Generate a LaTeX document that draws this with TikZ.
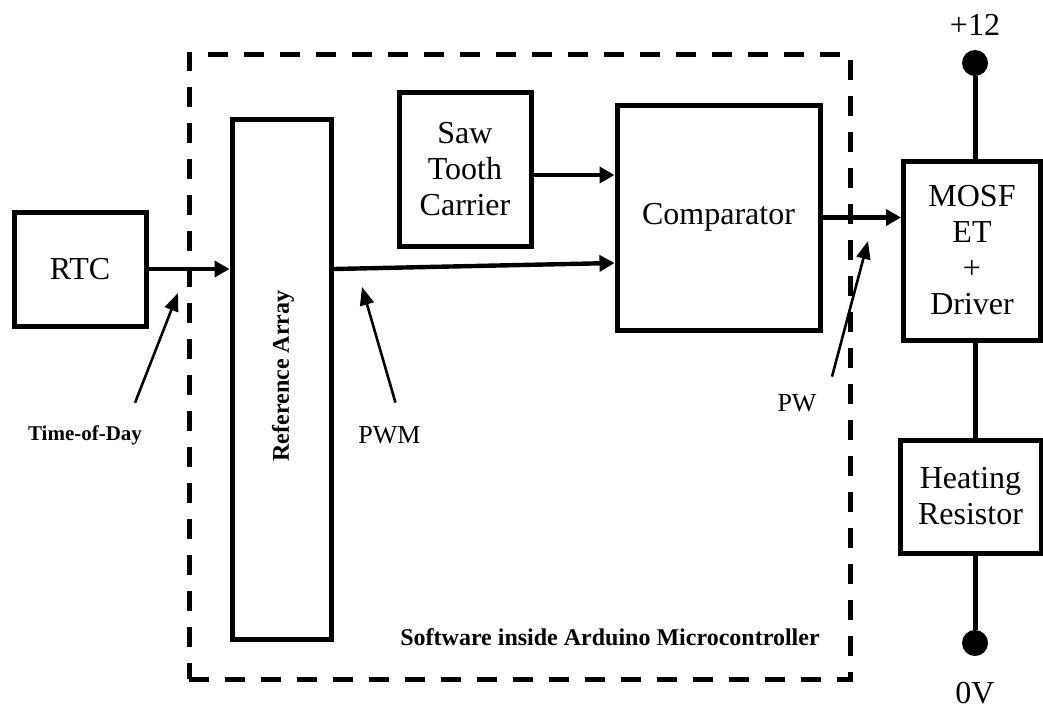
\documentclass[tikz,border=0pt]{standalone}
\usepackage{fontspec}
\setmainfont{Liberation Serif}
\usetikzlibrary{arrows.meta, positioning}

\begin{document}
\begin{tikzpicture}[
  x=0.5pt, y=-0.5pt,
  blk/.style={rectangle, draw, line width=2.5pt, inner sep=0pt, align=center,
              font=\fontsize{16}{18}\selectfont},
  swbox/.style={rectangle, draw, line width=2.5pt, dash pattern=on 10pt off 8pt, inner sep=0pt},
  arrow/.style={-{Triangle[length=7.5pt, width=8pt]}, line width=2.2pt},
  ptr/.style={-{Triangle[length=9pt, width=7pt]}, line width=1.3pt},
  lbl/.style={font=\fontsize{10.5}{12}\selectfont\bfseries, inner sep=0pt},
  note/.style={font=\fontsize{13}{15}\selectfont, inner sep=0pt},
  rail/.style={font=\fontsize{16}{18}\selectfont, inner sep=0pt},
  dot/.style={circle, fill, inner sep=0pt, minimum size=13pt},
  wire/.style={line width=2.5pt}
]
\useasboundingbox (0,0) rectangle (1043,709);

% software boundary
\node[swbox, minimum width=330.5pt, minimum height=312.5pt] (sw) at (519.5,366.5) {};

% blocks
\node[blk, minimum width=66pt, minimum height=57pt] (rtc) at (80,269) {RTC};
\node[blk, minimum width=49.5pt, minimum height=260pt] (ref) at (281.5,379) {};
\node[rotate=90, font=\fontsize{12}{14}\selectfont\bfseries] (reflbl) at (283,376) {Reference Array};
\node[blk, minimum width=66pt, minimum height=77pt] (saw) at (465,169) {Saw\\Tooth\\Carrier};
\node[blk, minimum width=101.5pt, minimum height=112.5pt] (comp) at (718.5,217.5) {Comparator};
\node[blk, minimum width=68.5pt, minimum height=89.5pt] (mosfet) at (972,250.5) {MOSF\\ET\\+\\Driver};
\node[blk, minimum width=70.5pt, minimum height=56.5pt] (heat) at (970.5,496.5) {Heating\\Resistor};

% supply rails
\node[dot] (vplus) at (975,63) {};
\node[dot] (vzero) at (975,643) {};
\node[rail, anchor=base] (v12) at (975,35) {+12};
\node[rail, anchor=base] (v0) at (975,703) {0V};

\draw[wire] (vplus) -- (vplus |- mosfet.north);
\draw[wire] (vplus |- mosfet.south) -- (vplus |- heat.north);
\draw[wire] (vplus |- heat.south) -- (vzero);

% signal flow
\draw[arrow] (rtc.east) -- (rtc.east -| ref.west);
\draw[arrow] (rtc.east -| ref.east) -- ([yshift=-22.75pt]comp.west);
\draw[arrow] ([yshift=-3pt]saw.east) -- ([yshift=-3pt]saw.east -| comp.west);
\draw[arrow] (comp.east) -- (comp.east -| mosfet.west);

% labels with pointers
\node[lbl, anchor=base] (tod) at (85,440) {Time-of-Day};
\node[note, anchor=base west] (pwm) at (358,443) {PWM};
\node[note, anchor=base] (pw) at (797,411) {PW};
\node[lbl, font=\fontsize{12}{14}\selectfont\bfseries, anchor=base] (swlbl) at (610,645) {Software inside Arduino Microcontroller};

\coordinate (todtip) at (178,293);
\coordinate (pwmtip) at (362,287);
\coordinate (pwtip) at (868,241);
\draw[ptr] ([xshift=25pt, yshift=11pt]tod.north) -- (todtip);
\draw[ptr] ([xshift=3pt, yshift=11.5pt]pwm.north) -- (pwmtip);
\draw[ptr] ([xshift=17.5pt, yshift=8.5pt]pw.north) -- (pwtip);
\end{tikzpicture}
\end{document}
